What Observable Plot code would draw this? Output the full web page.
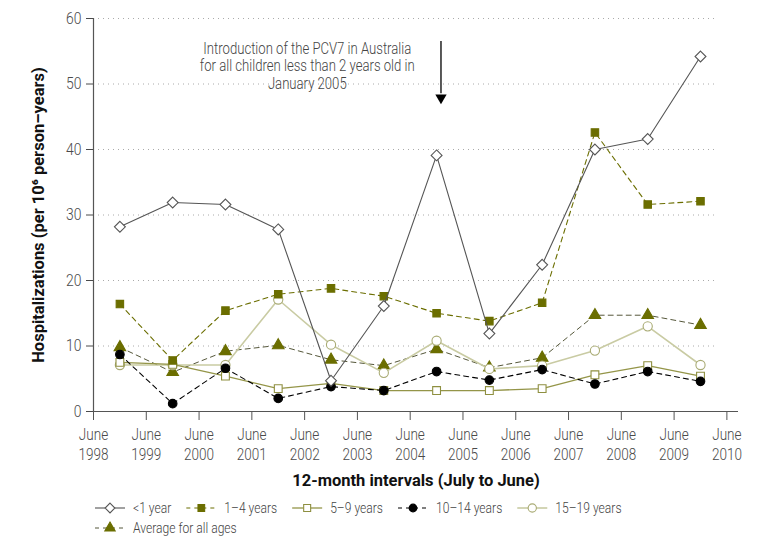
<!DOCTYPE html>
<html><head><meta charset="utf-8">
<script src="https://cdn.jsdelivr.net/npm/d3@7"></script>
<script src="https://cdn.jsdelivr.net/npm/@observablehq/plot@0.6"></script>
<style>
body{margin:0;background:#fff;font-family:Roboto,"Noto Sans",sans-serif;}
svg{display:block;}
</style></head><body><div id="chart"></div><div id="legend"></div><script>
// 12-month intervals starting in June of each year
const intervalStarts = [1998, 1999, 2000, 2001, 2002, 2003, 2004, 2005, 2006, 2007, 2008, 2009];
const xTickYears = [1998, 1999, 2000, 2001, 2002, 2003, 2004, 2005, 2006, 2007, 2008, 2009, 2010];
const seriesNames = ["<1 year", "1–4 years", "5–9 years", "10–14 years", "15–19 years", "Average for all ages"];
const under1 = [28.2, 31.9, 31.6, 27.8, 4.7, 16.1, 39.1, 11.9, 22.4, 40.0, 41.6, 54.2];
const age1to4 = [16.4, 7.8, 15.4, 17.9, 18.8, 17.6, 15.0, 13.8, 16.6, 42.6, 31.6, 32.1];
const age5to9 = [7.5, 7.2, 5.4, 3.5, 4.3, 3.2, 3.2, 3.2, 3.5, 5.6, 7.0, 5.4];
const age10to14 = [8.7, 1.2, 6.6, 2.0, 3.8, 3.2, 6.1, 4.8, 6.4, 4.2, 6.1, 4.6];
const age15to19 = [7.1, 7.1, 7.1, 17.1, 10.2, 5.9, 10.8, 6.5, 7.0, 9.3, 13.0, 7.1];
const allAges = [9.8, 6.0, 9.2, 10.1, 7.9, 7.0, 9.5, 6.7, 8.2, 14.7, 14.7, 13.2];
const yTicks = [0, 10, 20, 30, 40, 50, 60];
const annotationText = "Introduction of the PCV7 in Australia\nfor all children less than 2 years old in\nJanuary 2005";
const vaccineDate = 2004 + 7/12; // January 2005 on the June-based axis

const values = [under1, age1to4, age5to9, age10to14, age15to19, allAges];
const olive = "#6b6e00";
const styles = [
  {stroke:"#555", dash:null, symbol:"diamond2", r:4.9, fill:"#fff", sStroke:"#555", w:1.1},
  {stroke:olive, dash:"5,4", symbol:"square", r:4.2, fill:olive, sStroke:olive, w:1.1},
  {stroke:"#949548", dash:null, symbol:"square", r:4.4, fill:"#fff", sStroke:"#8e8f40", w:1.3},
  {stroke:"#000", dash:"5,4", symbol:"circle", r:4.3, fill:"#000", sStroke:"#000", w:1.1},
  {stroke:"#c9cba3", dash:null, symbol:"circle", r:4.6, fill:"#fff", sStroke:"#a9ab74", w:1.6},
  {stroke:"#55573a", dash:"5,4", symbol:"triangle", r:4.3, fill:olive, sStroke:olive, w:1.0}
];
const drawOrder = [5, 4, 2, 3, 1, 0];
const FONT = 'Roboto,"Noto Sans",sans-serif';

const marks = [];
marks.push(Plot.ruleY(yTicks.filter(d => d > 0), {x1: 1998, x2: 2009.8, stroke: "#aaa", strokeDasharray: "1,4", strokeWidth: 1}));
marks.push(Plot.ruleY([0], {stroke: "#555", strokeWidth: 1.2}));
marks.push(Plot.ruleX([1998], {y1: 0, y2: 60, stroke: "#555", strokeWidth: 1.2}));
marks.push(Plot.axisX({ticks: xTickYears, tickFormat: d => "June\n" + d, tickSize: 9, tickPadding: 5, fontSize: 16.5, lineHeight: 1.22, fontWeight: 300, color: "#4a4a4a", stroke: "#555", label: null}));
marks.push(Plot.axisY({ticks: yTicks, tickSize: 7, tickPadding: 5, fontSize: 17, fontWeight: 300, color: "#4a4a4a", label: null}));
for (const i of drawOrder) {
  const st = styles[i];
  const rows = intervalStarts.map((s, k) => ({x: s + 0.5, v: values[i][k]}));
  marks.push(Plot.lineY(rows, {x: "x", y: "v", stroke: st.stroke, strokeWidth: st.w, strokeDasharray: st.dash}));
  marks.push(Plot.dot(rows, {x: "x", y: "v", symbol: st.symbol, r: st.r, fill: st.fill, stroke: st.sStroke, strokeWidth: 1.1}));
}
marks.push(Plot.text([annotationText], {x: 2002.05, y: 52.8, text: d => d, fontSize: 16, fontWeight: 300, lineHeight: 1.1, fill: "#444"}));
marks.push(Plot.ruleX([vaccineDate], {y1: 56.5, y2: 48.5, stroke: "#000", strokeWidth: 1.3}));
marks.push(Plot.dot([vaccineDate], {x: d => d, y: 47.9, symbol: "triangle", rotate: 180, r: 4.2, fill: "#000"}));
marks.push(Plot.text(["12-month intervals (July to June)"], {frameAnchor: "bottom", lineAnchor: "middle", dy: 69, fontSize: 17, fontWeight: "bold", fill: "#111"}));
marks.push(Plot.text(["Hospitalizations (per 10⁶ person–years)"], {frameAnchor: "left", textAnchor: "middle", dx: -55, rotate: -90, fontSize: 17, fontWeight: "bold", fill: "#111"}));

const chart = Plot.plot({
  width: 771, height: 492,
  marginLeft: 93, marginRight: 33, marginTop: 18, marginBottom: 81,
  x: {domain: [1998, 2010.22]},
  y: {domain: [0, 60]},
  style: {fontFamily: FONT, background: "#fff"},
  marks
});
document.getElementById("chart").appendChild(chart);

// condense glyphs to mimic the narrow typeface of the original
function condense(root, sqLight, sqBold) {
  root.querySelectorAll("text").forEach(t => {
    const bold = Number(getComputedStyle(t).fontWeight) >= 600;
    const sq = bold ? sqBold : sqLight;
    const spans = t.querySelectorAll("tspan");
    const targets = spans.length ? Array.from(spans) : [t];
    targets.forEach(el => {
      const L = el.getComputedTextLength();
      if (L > 0) { el.setAttribute("textLength", (L * sq).toFixed(2)); el.setAttribute("lengthAdjust", "spacingAndGlyphs"); }
    });
  });
}
condense(chart, 0.82, 0.97);

// legend (SVG below the chart)
const LSQ = 0.78;
const leg = d3.select("#legend").append("svg").attr("width", 771).attr("height", 56)
  .style("font-family", FONT).style("font-size", "15.5px").style("font-weight", 300);
const symMap = {diamond2: d3.symbolDiamond2, square: d3.symbolSquare, circle: d3.symbolCircle, triangle: d3.symbolTriangle};
const rowsSpec = [[0,1,2,3,4],[5]];
rowsSpec.forEach((r, ri) => {
  let x = 95;
  const cy = 16 + ri * 20;
  for (const i of r) {
    const st = styles[i];
    const g = leg.append("g").attr("transform", `translate(${x},${cy})`);
    g.append("line").attr("x1", 0).attr("x2", 30).attr("stroke", st.stroke).attr("stroke-width", st.w)
      .attr("stroke-dasharray", st.dash ? "4,4" : null);
    g.append("path").attr("d", d3.symbol(symMap[st.symbol], Math.PI * st.r * st.r * 0.8)())
      .attr("transform", "translate(15,0)").attr("fill", st.fill).attr("stroke", st.sStroke).attr("stroke-width", 1.1);
    const t = g.append("text").attr("x", 38).attr("dy", "0.35em").attr("fill", "#444").text(seriesNames[i]);
    const L = t.node().getComputedTextLength() * LSQ;
    t.attr("textLength", L.toFixed(2)).attr("lengthAdjust", "spacingAndGlyphs");
    x += 38 + L + 15;
  }
});
</script></body></html>
